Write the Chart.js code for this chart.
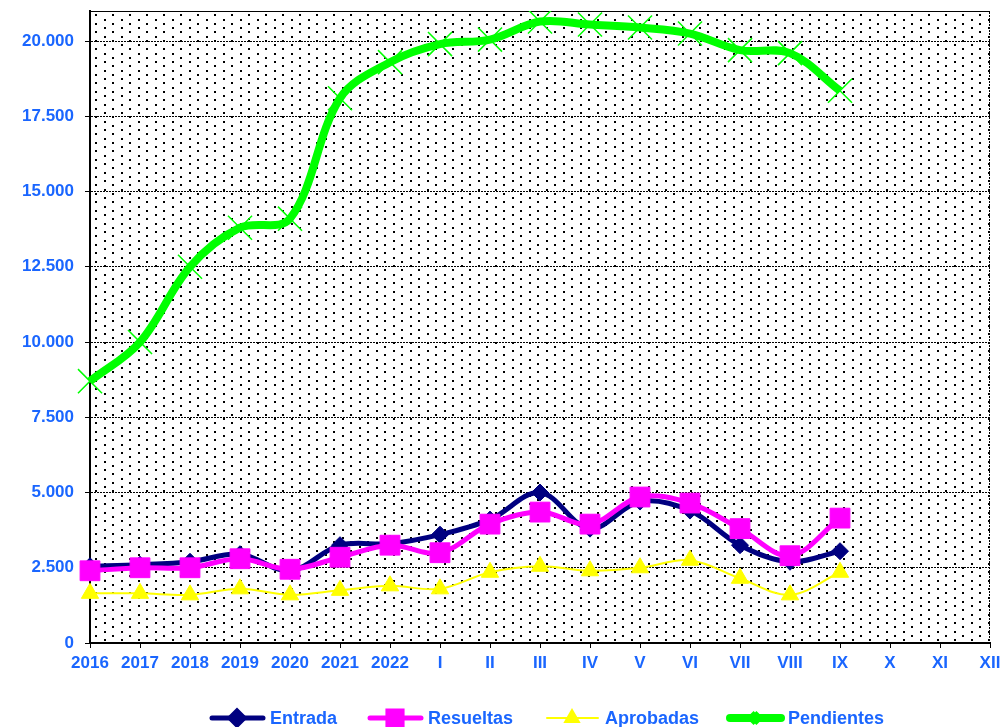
<!DOCTYPE html>
<html>
<head>
<meta charset="utf-8">
<script src="https://cdn.jsdelivr.net/npm/chart.js@4/dist/chart.umd.min.js"></script>
<style>
  html, body { margin: 0; padding: 0; background: #fff; }
  #wrap { width: 1002px; height: 727px; }
</style>
</head>
<body>
<div id="wrap"><canvas id="chart"></canvas></div>
<script>
// series
const labels = ['2016', '2017', '2018', '2019', '2020', '2021', '2022',
  'I', 'II', 'III', 'IV', 'V', 'VI', 'VII', 'VIII', 'IX', 'X', 'XI', 'XII'];
const entrada = [2550, 2600, 2700, 2950, 2400, 3250, 3300,
  3600, 4100, 5000, 3800, 4700, 4400, 3250, 2700, 3050, null, null, null];
const resueltas = [2400, 2500, 2500, 2800, 2450, 2850, 3250,
  3000, 3950, 4350, 3950, 4850, 4650, 3800, 2900, 4150, null, null, null];
const aprobadas = [1650, 1650, 1600, 1800, 1600, 1750, 1900,
  1800, 2350, 2550, 2400, 2500, 2750, 2150, 1600, 2350, null, null, null];
const pendientes = [8700, 10000, 12500, 13800, 14100, 18100, 19300,
  19900, 20050, 20650, 20550, 20450, 20250, 19700, 19600, 18350, null, null, null];
const yTicks = [0, 2500, 5000, 7500, 10000, 12500, 15000, 17500, 20000];
const Y_MAX = 21000;

const BLUE = '#1a66ff';
const FONT = 'Arial, "Liberation Sans", sans-serif';

// dotted background pattern
function dotPattern(ctx) {
  const p = document.createElement('canvas');
  p.width = 17; p.height = 17;
  const c = p.getContext('2d');
  c.fillStyle = '#fff';
  c.fillRect(0, 0, 17, 17);
  c.fillStyle = '#000';
  for (const [x, y] of [[2, 2], [2, 10], [10, 6], [10, 14]]) c.fillRect(x, y, 2, 2);
  return ctx.createPattern(p, 'repeat');
}

const plotBg = {
  id: 'plotBg',
  beforeDraw(chart) {
    const { ctx, chartArea: a } = chart;
    ctx.save();
    ctx.fillStyle = dotPattern(ctx);
    ctx.fillRect(a.left, a.top, a.right - a.left, a.bottom - a.top);
    ctx.strokeStyle = '#000';
    ctx.lineWidth = 1;
    ctx.setLineDash([2, 1]);
    ctx.beginPath();
    ctx.moveTo(a.left, a.top + 0.5);
    ctx.lineTo(a.right - 0.5, a.top + 0.5);
    ctx.lineTo(a.right - 0.5, a.bottom);
    ctx.stroke();
    ctx.restore();
  }
};

// legend: line + marker per dataset, laid out like the original
const legendX = [209, 367, 544, 727];
const legendR = [7, 10, 8, 6];
const legendLine = {
  id: 'legendLine',
  afterDraw(chart) {
    const { ctx } = chart;
    const y = 718;
    ctx.save();
    chart.data.datasets.forEach((ds, i) => {
      const x0 = legendX[i];
      ctx.strokeStyle = ds.borderColor;
      ctx.fillStyle = ds.backgroundColor;
      ctx.lineWidth = ds.borderWidth;
      ctx.lineCap = 'round';
      ctx.beginPath();
      ctx.moveTo(x0 + 3, y);
      ctx.lineTo(x0 + 54, y);
      ctx.stroke();
      ctx.lineCap = 'butt';
      Chart.helpers.drawPoint(ctx, {
        pointStyle: ds.pointStyle, radius: legendR[i],
        borderWidth: ds.pointBorderWidth, rotation: 0
      }, x0 + 28, y);
      ctx.fillStyle = BLUE;
      ctx.font = 'bold 18px ' + FONT;
      ctx.textBaseline = 'middle';
      ctx.textAlign = 'left';
      ctx.fillText(ds.label, x0 + 61, y + 1);
    });
    ctx.restore();
  }
};

const ctx = document.getElementById('chart').getContext('2d');

new Chart(ctx, {
  type: 'line',
  data: {
    labels,
    datasets: [
      {
        label: 'Entrada', data: entrada,
        borderColor: '#000080', backgroundColor: '#000080',
        borderWidth: 5, pointStyle: 'rectRot', pointRadius: 8.5,
        pointBorderWidth: 1, tension: 0.35, order: 2
      },
      {
        label: 'Resueltas', data: resueltas,
        borderColor: '#ff00ff', backgroundColor: '#ff00ff',
        borderWidth: 5, pointStyle: 'rect', pointRadius: 14,
        pointBorderWidth: 1, tension: 0.35, order: 1
      },
      {
        label: 'Aprobadas', data: aprobadas,
        borderColor: '#ffff00', backgroundColor: '#ffff00',
        borderWidth: 2, pointStyle: 'triangle', pointRadius: 10,
        pointBorderWidth: 1, tension: 0.35, order: 3
      },
      {
        label: 'Pendientes', data: pendientes,
        borderColor: '#00ff00', backgroundColor: '#00ff00',
        borderWidth: 8, pointStyle: 'crossRot', pointRadius: 17,
        pointBorderWidth: 1.5, tension: 0.35, order: 0
      }
    ]
  },
  options: {
    responsive: true,
    maintainAspectRatio: false,
    animation: false,
    layout: { autoPadding: false, padding: { top: 11, right: 12, left: 0, bottom: 0 } },
    plugins: {
      tooltip: { enabled: false },
      legend: { display: false }
    },
    scales: {
      x: {
        offset: false,
        grid: { drawOnChartArea: false, drawTicks: true, tickLength: 5, color: '#000' },
        border: { display: true, color: '#000', width: 2 },
        ticks: {
          color: BLUE, padding: 5, maxRotation: 0, autoSkip: false,
          font: { family: FONT, size: 17, weight: 'bold' }
        },
        afterFit: (s) => { s.height = 84; s.paddingLeft = 0; s.paddingRight = 0; }
      },
      y: {
        min: 0, max: Y_MAX,
        afterBuildTicks: (s) => { s.ticks = yTicks.concat([Y_MAX]).map((v) => ({ value: v })); },
        grid: {
          color: '#000', lineWidth: 1, tickLength: 5,
          tickColor: (c) => (c.tick && c.tick.value === Y_MAX ? 'transparent' : '#000')
        },
        border: { display: true, color: '#000', width: 2, dash: [2, 1] },
        ticks: {
          color: BLUE, padding: 11,
          font: { family: FONT, size: 17, weight: 'bold' },
          callback: (v) => (v === Y_MAX ? '' : v.toString().replace(/\B(?=(\d{3})+(?!\d))/g, '.'))
        },
        afterFit: (s) => { s.width = 90; s.paddingTop = 0; s.paddingBottom = 0; }
      }
    }
  },
  plugins: [plotBg, legendLine]
});
</script>
</body>
</html>
